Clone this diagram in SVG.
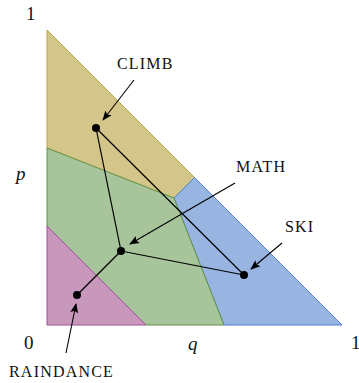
<svg xmlns="http://www.w3.org/2000/svg" width="359" height="383" viewBox="0 0 359 383">
<style>
.lbl{font-family:"Liberation Serif","DejaVu Serif",serif;font-size:16px;letter-spacing:1.2px;fill:#111}
.ax{font-family:"Liberation Serif","DejaVu Serif",serif;font-size:19px;fill:#111}
.it{font-style:italic}
.edge{stroke:#000;stroke-width:1.2;fill:none}
.arr{stroke:#000;stroke-width:1.1;fill:none;marker-end:url(#ah)}
.dot{fill:#000}
</style>
<defs>
<marker id="ah" viewBox="0 0 10 10" refX="9" refY="5" markerWidth="10" markerHeight="10" markerUnits="userSpaceOnUse" orient="auto">
<path d="M0,1 L10,5 L0,9 L2,5 Z" fill="#000"/>
</marker>
</defs>
<g id="regions">
<polygon id="climb-region" points="47,30 194.5,177.5 174,198 47,148" fill="#d4c58b" stroke="#b9a442" stroke-width="1"/>
<polygon id="ski-region" points="194.5,177.5 342,325 224,325 174,198" fill="#98b4e1" stroke="#4f80d2" stroke-width="1"/>
<polygon id="math-region" points="47,148 174,198 224,325 146,325 47,226" fill="#a8c49b" stroke="#5f9444" stroke-width="1"/>
<polygon id="raindance-region" points="47,226 146,325 47,325" fill="#c797bc" stroke="#a0509a" stroke-width="1"/>
</g>
<g id="connectors">
<line class="edge" x1="96" y1="128" x2="121" y2="251"/>
<line class="edge" x1="96" y1="128" x2="244" y2="275"/>
<line class="edge" x1="121" y1="251" x2="244" y2="275"/>
<line class="edge" x1="121" y1="251" x2="77" y2="295"/>
<line class="arr" x1="134" y1="80" x2="103" y2="120"/>
<line class="arr" x1="235" y1="183" x2="130" y2="244"/>
<line class="arr" x1="282" y1="243" x2="251" y2="269"/>
<line class="arr" x1="66" y1="353" x2="76" y2="304"/>
</g>
<g id="node-climb"><circle class="dot" cx="96" cy="128" r="4"/><text class="lbl" x="117" y="69">CLIMB</text></g>
<g id="node-math"><circle class="dot" cx="121" cy="251" r="4"/><text class="lbl" x="236" y="172">MATH</text></g>
<g id="node-ski"><circle class="dot" cx="244" cy="275" r="4"/><text class="lbl" x="285" y="232">SKI</text></g>
<g id="node-raindance"><circle class="dot" cx="77" cy="295" r="4"/><text class="lbl" x="9" y="377">RAINDANCE</text></g>
<g id="axes">
<text class="ax" x="26" y="20">1</text>
<text class="ax it" x="16" y="180">p</text>
<text class="ax" x="24" y="349">0</text>
<text class="ax it" x="188" y="350">q</text>
<text class="ax" x="351" y="349">1</text>
</g>
</svg>
